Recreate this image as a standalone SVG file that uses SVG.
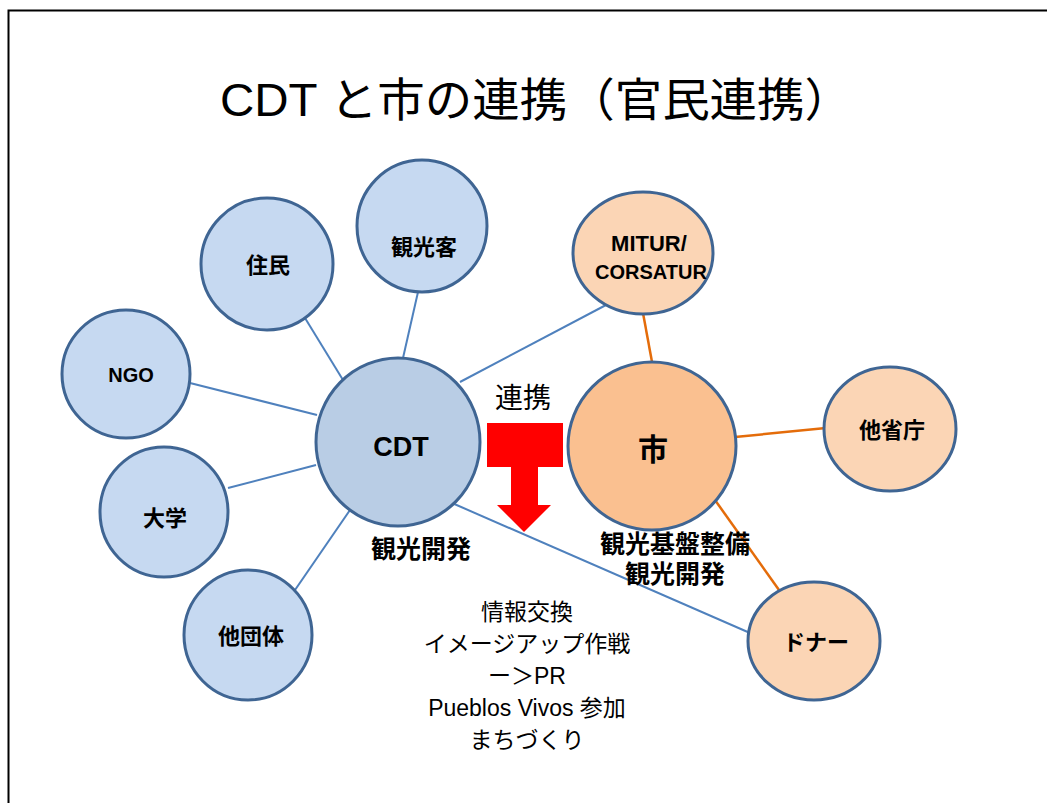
<svg xmlns="http://www.w3.org/2000/svg" width="1047" height="803" viewBox="0 0 1047 803">
<style>
.n{stroke:#3F6593;stroke-width:3}
.b{fill:#C6D9F1}
.o{fill:#FBD5B5}
.lb{stroke:#4F81BD;stroke-width:2;fill:none}
.lo{stroke:#E46C0A;stroke-width:2.5;fill:none}
text{font-family:"Liberation Sans","Noto Sans CJK JP",sans-serif;text-anchor:middle;fill:#000}
.t{font-weight:bold;font-size:22px}
.m{font-size:23px}
</style>
<rect x="0" y="0" width="1047" height="803" fill="#fff"/>
<path d="M8.5 803 V10.5 H1047" fill="none" stroke="#000" stroke-width="2"/>
<text x="536" y="116" font-size="46" textLength="632" lengthAdjust="spacingAndGlyphs">CDT と市の連携（官民連携）</text>
<g id="connectors">
<line class="lb" x1="305" y1="318" x2="343" y2="380"/>
<line class="lb" x1="418" y1="292" x2="403" y2="358"/>
<line class="lb" x1="190" y1="383" x2="317" y2="415"/>
<line class="lb" x1="228" y1="488" x2="316" y2="465"/>
<line class="lb" x1="295" y1="590" x2="350" y2="510"/>
<line class="lb" x1="606" y1="305" x2="460" y2="382"/>
<line class="lb" x1="452" y1="503" x2="750" y2="633"/>
<line class="lo" x1="643" y1="313" x2="652" y2="362"/>
<line class="lo" x1="735" y1="437" x2="826" y2="428"/>
<line class="lo" x1="710" y1="493" x2="779" y2="590"/>
</g>
<g id="arrow">
<path d="M487 423 H563 V467 H538 V505 H551 L524 532 L497 505 H511 V467 H487 Z" fill="#FF0000"/>
<text x="523" y="408" style="font-size:28px">連携</text>
</g>
<g id="n-jumin"><ellipse class="n b" cx="267" cy="264" rx="66" ry="66"/><text class="t" x="268" y="273">住民</text></g>
<g id="n-kankoukyaku"><ellipse class="n b" cx="422" cy="226" rx="65" ry="66"/><text class="t" x="424" y="255">観光客</text></g>
<g id="n-ngo"><ellipse class="n b" cx="126" cy="374" rx="64" ry="64"/><text class="t" x="131" y="382" style="font-size:20px">NGO</text></g>
<g id="n-daigaku"><ellipse class="n b" cx="164" cy="512" rx="64" ry="65"/><text class="t" x="165" y="526">大学</text></g>
<g id="n-tadantai"><ellipse class="n b" cx="248" cy="635" rx="64" ry="65"/><text class="t" x="251" y="644">他団体</text></g>
<g id="n-cdt"><ellipse class="n" fill="#B9CDE5" cx="398" cy="442" rx="82" ry="84"/><text class="t" x="401" y="456" style="font-size:27px">CDT</text>
<text class="t" x="421" y="558" style="font-size:25px">観光開発</text></g>
<g id="n-mitur"><ellipse class="n o" cx="643" cy="253" rx="70" ry="61"/><text class="t" x="649" y="251" style="font-size:22px">MITUR/</text><text class="t" x="651" y="279" style="font-size:20px">CORSATUR</text></g>
<g id="n-shi"><ellipse class="n" fill="#FAC090" cx="652" cy="446" rx="84" ry="84"/><text class="t" x="653" y="460" style="font-size:30px">市</text>
<text class="t" x="675" y="553" style="font-size:25px">観光基盤整備</text><text class="t" x="675" y="583" style="font-size:25px">観光開発</text></g>
<g id="n-tashoucho"><ellipse class="n o" cx="890" cy="429" rx="66" ry="62"/><text class="t" x="892" y="438">他省庁</text></g>
<g id="n-donor"><ellipse class="n o" cx="814" cy="641" rx="66" ry="59"/><text class="t" x="816" y="650">ドナー</text></g>
<g id="notes">
<text class="m" x="527" y="620">情報交換</text>
<text class="m" x="527" y="652">イメージアップ作戦</text>
<text class="m" x="527" y="684">ー＞PR</text>
<text class="m" x="527" y="716">Pueblos Vivos 参加</text>
<text class="m" x="527" y="748">まちづくり</text>
</g>
</svg>
